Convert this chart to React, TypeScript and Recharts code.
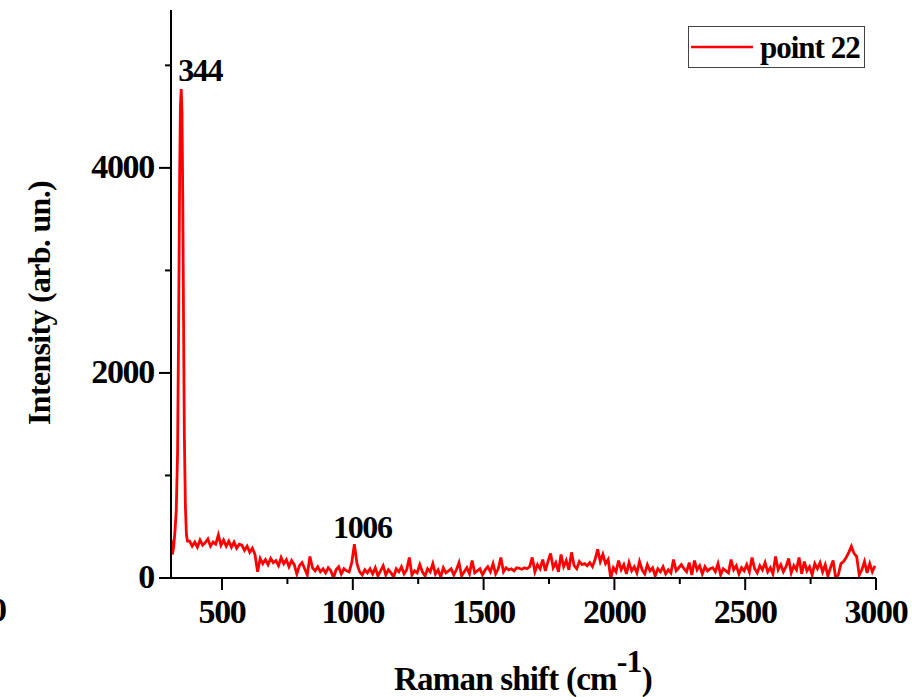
import { LineChart, Line, XAxis, YAxis, ReferenceDot, Customized } from "recharts";

// Raman spectrum, point 22. Main band around 344 cm-1 read point by point.
const peakShift = [305, 310, 315, 320, 325, 330, 334, 338, 341, 344, 347, 350, 353, 356, 360, 364, 368];
const peakIntensity = [380, 230, 300, 450, 650, 1200, 2400, 3900, 4600, 4770, 4550, 3700, 2500, 1400, 700, 420, 360];

// rest of the spectrum, sampled every 10 cm-1 starting at 376 (so 1006 lands on a sample)
const baseStart = 376;
const baseStep = 10;
const baseIntensity = [
  360, 310, 350, 300, 370, 320, 345, 380, 310, 350, // 376-466
  330, 420, 320, 370, 310, 360, 300, 350, 290, 330, // 476-566
  320, 270, 310, 250, 290, 230, 60, 190, 140, 180, // 576-666
  130, 190, 150, 170, 120, 200, 140, 180, 110, 170, // 676-766
  130, 40, 120, 150, 90, 30, 210, 100, 70, 110, // 776-866
  60, 90, 50, 100, 70, 0, 80, 110, 40, 90, // 876-966
  70, 60, 150, 330, 140, 60, 30, 80, 50, 90, // 976-1066
  40, 100, 20, 70, 120, 30, 80, 50, 10, 90, // 1076-1166
  60, 110, 40, 80, 200, 30, 70, 50, 130, 60, // 1176-1266
  20, 90, 60, 140, 40, 80, 10, 100, 50, 70, // 1276-1366
  90, 30, 80, 150, 20, 60, 100, 40, 170, 50, // 1376-1466
  70, 90, 30, 80, 110, 60, 140, 40, 90, 200, // 1476-1566
  60, 100, 80, 90, 70, 100, 95, 85, 100, 90, // 1576-1666
  110, 200, 60, 130, 90, 180, 70, 160, 240, 100, // 1676-1766
  150, 60, 230, 110, 170, 80, 250, 120, 90, 160, // 1776-1866
  130, 140, 120, 150, 110, 180, 280, 160, 230, 140, // 1876-1966
  180, 0, 100, 60, 170, 80, 130, 40, 150, 70, // 1976-2066
  110, 50, 160, 80, 40, 130, 70, 100, 20, 90, // 2076-2166
  60, 110, 40, 80, 50, 180, 70, 100, 130, 90, // 2176-2266
  60, 150, 30, 170, 80, 120, 40, 110, 70, 90, // 2276-2366
  100, 60, 140, 30, 90, 70, 50, 180, 80, 120, // 2376-2466
  40, 100, 70, 130, 60, 200, 90, 50, 120, 80, // 2476-2566
  150, 60, 100, 40, 210, 80, 130, 60, 110, 190, // 2576-2666
  50, 120, 80, 200, 40, 160, 70, 110, 30, 140, // 2676-2766
  90, 150, 60, 130, 20, 100, 170, 0, 30, 140, // 2776-2866
  160, 200, 250, 310, 240, 210, 30, 80, 160, 50, // 2876-2966
  140, 60, 120, // 2976-2996
];

const xTicks = [500, 750, 1000, 1250, 1500, 1750, 2000, 2250, 2500, 2750, 3000];
const yTicks = [0, 1000, 2000, 3000, 4000, 5000];
const seriesName = "point 22";
const peakLabels = [
  { shift: 344, value: 4770, text: "344", dx: 19, dy: -8 },
  { shift: 1006, value: 330, text: "1006", dx: 8, dy: -6 },
];

const data = [
  ...peakShift.map((s, i) => ({ shift: s, intensity: peakIntensity[i] })),
  ...baseIntensity.map((v, i) => ({ shift: baseStart + i * baseStep, intensity: v })),
];

const FONT = '"Liberation Serif", "Times New Roman", serif';
const RED = "#ff0000";

const XTick = ({ x, y, payload }: any) => {
  const major = payload.value % 500 === 0;
  return (
    <g>
      <line x1={x} x2={x} y1={y} y2={y + (major ? 12 : 6)} stroke="#000" strokeWidth={2} />
      {major && (
        <text x={x} y={y + 45} textAnchor="middle" fontFamily={FONT} fontWeight="bold" fontSize={34} letterSpacing={-1.3} fill="#000">
          {payload.value}
        </text>
      )}
    </g>
  );
};

const YTick = ({ x, y, payload }: any) => {
  const major = payload.value % 2000 === 0;
  return (
    <g>
      <line x1={x - (major ? 12 : 6)} x2={x} y1={y} y2={y} stroke="#000" strokeWidth={2} />
      {major && (
        <text x={x - 17} y={y + 10} textAnchor="end" fontFamily={FONT} fontWeight="bold" fontSize={34} letterSpacing={-1.3} fill="#000">
          {payload.value}
        </text>
      )}
    </g>
  );
};

const PeakLabel = ({ viewBox, text, dx, dy }: any) => (
  <text
    x={viewBox.x + viewBox.width / 2 + dx}
    y={viewBox.y + viewBox.height / 2 + dy}
    textAnchor="middle"
    fontFamily={FONT}
    fontWeight="bold"
    fontSize={32}
    letterSpacing={-1.3}
    fill="#000"
  >
    {text}
  </text>
);

const Titles = () => (
  <g fontFamily={FONT} fontWeight="bold" fill="#000">
    <text x={523} y={690} textAnchor="middle" fontSize={33} letterSpacing={-0.8}>
      <tspan>Raman shift (cm</tspan>
      <tspan dy={-18} fontSize={32}>-1</tspan>
      <tspan dy={18}>)</tspan>
    </text>
    <text x={50} y={303} textAnchor="middle" fontSize={32} letterSpacing={-0.7} transform="rotate(-90 50 303)">
      Intensity (arb. un.)
    </text>
    <text x={7} y={621} textAnchor="end" fontSize={34}>0</text>
    {/* legend */}
    <rect x={688.5} y={26.5} width={176} height={41} fill="#fff" stroke="#444" strokeWidth={1} />
    <line x1={691} x2={753} y1={47} y2={47} stroke={RED} strokeWidth={2.5} />
    <text x={760} y={58} fontSize={31} letterSpacing={-1}>
      {seriesName}
    </text>
  </g>
);

export default function App() {
  return (
    <div style={{ position: "absolute", left: 0, top: 0, width: 912, height: 697, background: "#fff" }}>
      <LineChart width={912} height={697} data={data} margin={{ top: 10, right: 36, bottom: 19, left: 71 }}>
        <XAxis
          dataKey="shift"
          type="number"
          domain={[305, 3000]}
          allowDataOverflow
          ticks={xTicks}
          tick={<XTick />}
          tickLine={false}
          tickSize={0}
          tickMargin={0}
          axisLine={{ stroke: "#000", strokeWidth: 2 }}
          height={100}
          interval={0}
        />
        <YAxis
          type="number"
          domain={[0, 5540]}
          allowDataOverflow
          ticks={yTicks}
          tick={<YTick />}
          tickLine={false}
          tickSize={0}
          tickMargin={0}
          axisLine={{ stroke: "#000", strokeWidth: 2 }}
          width={100}
          interval={0}
        />
        <Line
          dataKey="intensity"
          name={seriesName}
          type="linear"
          stroke={RED}
          strokeWidth={2.8}
          dot={false}
          isAnimationActive={false}
        />
        {peakLabels.map((p) => (
          <ReferenceDot
            key={p.text}
            x={p.shift}
            y={p.value}
            r={0}
            fill="none"
            stroke="none"
            label={<PeakLabel text={p.text} dx={p.dx} dy={p.dy} />}
          />
        ))}
        <Customized component={<Titles />} />
      </LineChart>
    </div>
  );
}
